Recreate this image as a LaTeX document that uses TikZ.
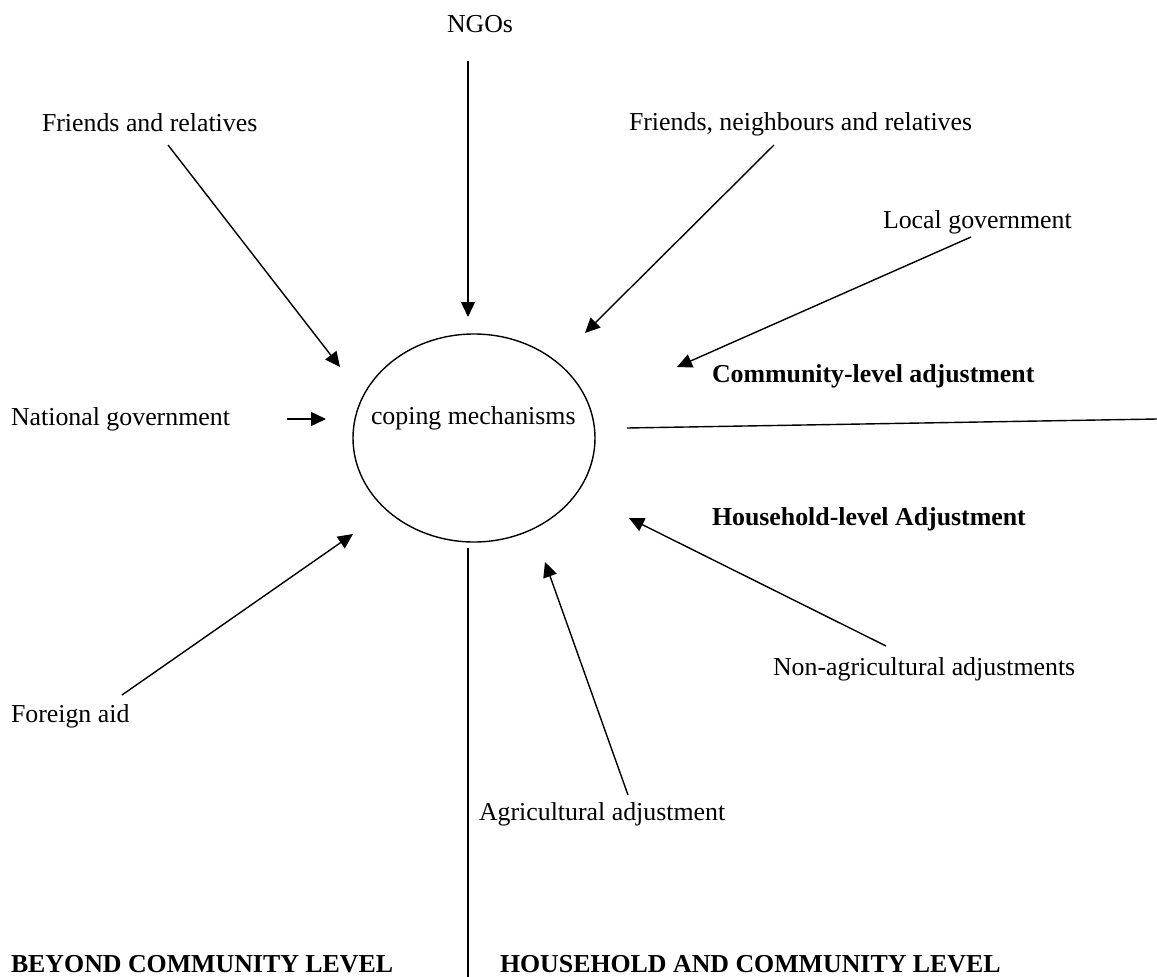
\documentclass[tikz,border=0pt]{standalone}
\usepackage{fontspec}
\setmainfont{Liberation Serif}
\usetikzlibrary{arrows.meta,shapes.geometric}

\begin{document}
\begin{tikzpicture}[x=1pt,y=-1pt,
  txt/.style={anchor=base west,inner sep=0pt,outer sep=0pt,
              font=\fontsize{25.85pt}{30pt}\selectfont},
  hdr/.style={txt,font=\fontsize{25.85pt}{30pt}\selectfont\bfseries},
  feed/.style={line width=1.4pt,-{Triangle[length=15pt,width=14pt]}},
  divider/.style={line width=1.4pt}]

\useasboundingbox (0,0) rectangle (1157,977);

% central ellipse and its label
\node[draw,ellipse,line width=1.4pt,minimum width=242pt,minimum height=208pt,
      inner sep=0pt] (core) at (474,438) {};
\node[txt] (coretext) at (371,424) {coping mechanisms};

% sources of support
\node[txt] (ngo)  at (447,32)  {NGOs};
\node[txt] (fr)   at (42,131)  {Friends and relatives};
\node[txt] (fnr)  at (629,130) {Friends, neighbours and relatives};
\node[txt] (lg)   at (883,228) {Local government};
\node[txt] (ng)   at (11,425)  {National government};
\node[txt] (fa)   at (11,722)  {Foreign aid};
\node[txt] (nag)  at (773,675) {Non-agricultural adjustments};
\node[txt] (ag)   at (479,820) {Agricultural adjustment};

% level headings
\node[hdr] (comm) at (712,382) {Community-level adjustment};
\node[hdr] (hh)   at (712,525) {Household-level Adjustment};
\node[hdr] (bcl)  at (11,972)  {BEYOND COMMUNITY LEVEL};
\node[hdr] (hcl)  at (500,972) {HOUSEHOLD AND COMMUNITY LEVEL};

% arrow ends
\coordinate (ngoS) at (468,61);  \coordinate (ngoE) at (468,317);
\coordinate (frS)  at (168,145); \coordinate (frE)  at (340,367);
\coordinate (fnrS) at (774,145); \coordinate (fnrE) at (585,333);
\coordinate (lgS)  at (971,237); \coordinate (lgE)  at (677,367);
\coordinate (ngS)  at (287,419); \coordinate (ngE)  at (326,419);
\coordinate (faS)  at (122,695); \coordinate (faE)  at (353,534);
\coordinate (nagS) at (886,646); \coordinate (nagE) at (629,518);
\coordinate (agS)  at (628,795); \coordinate (agE)  at (545,562);

\draw[feed] (ngoS) -- (ngoE);
\draw[feed] (frS)  -- (frE);
\draw[feed] (fnrS) -- (fnrE);
\draw[feed] (lgS)  -- (lgE);
\draw[feed] (ngS)  -- (ngE);
\draw[feed] (faS)  -- (faE);
\draw[feed] (nagS) -- (nagE);
\draw[feed] (agS)  -- (agE);

% dividing lines between levels
\coordinate (hL) at (627,428); \coordinate (hR) at (1157,419);
\coordinate (vT) at (468,548); \coordinate (vB) at (468,977);
\draw[divider] (hL) -- (hR);
\draw[divider] (vT) -- (vB);
\end{tikzpicture}
\end{document}
